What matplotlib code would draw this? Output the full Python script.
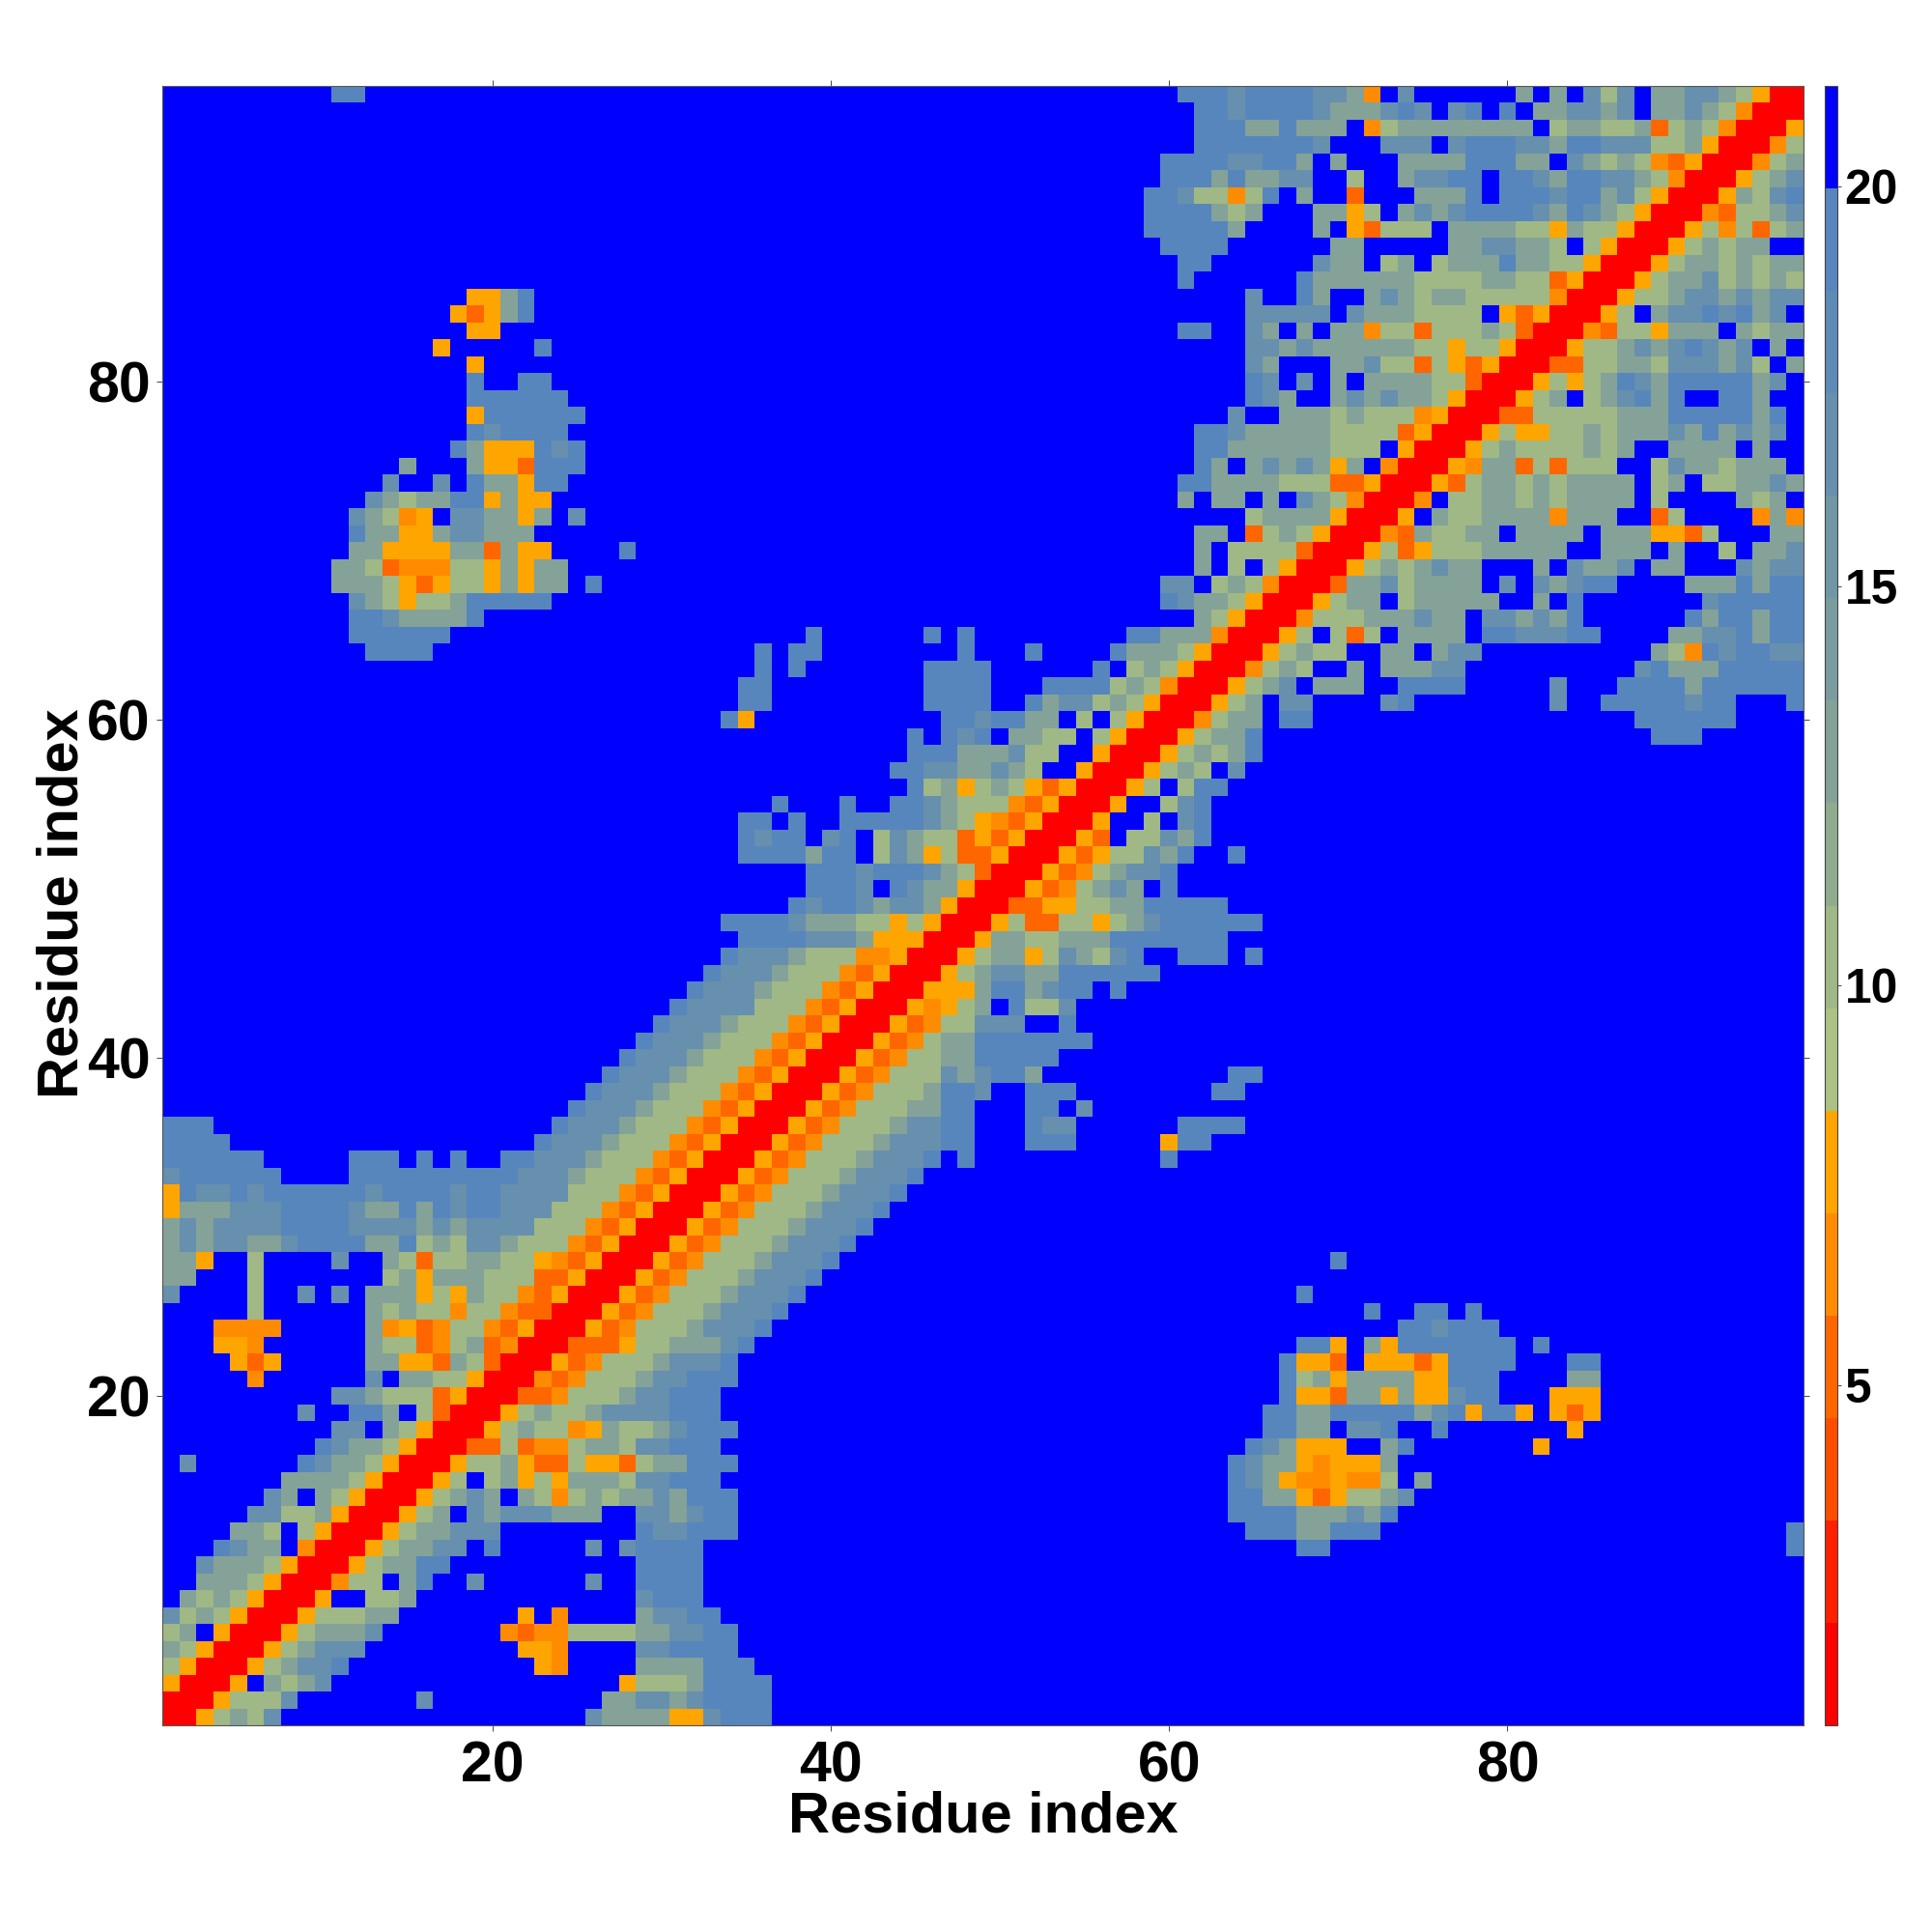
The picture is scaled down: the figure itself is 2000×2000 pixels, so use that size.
import numpy as np
import matplotlib
matplotlib.use("Agg")
import matplotlib.pyplot as plt
from matplotlib.colors import ListedColormap, BoundaryNorm
from matplotlib.cm import ScalarMappable

plt.rcParams['font.family'] = ['Liberation Sans', 'DejaVu Sans']

# Contact-map distance read per cell; every cell not listed is the top (blue) class.
SYMBOL_VALUE = {'R': 1.4, 'O': 5.2, 'o': 6.5, 'y': 7.8, 'g': 10.4, 'm': 12.9,
                'k': 16.7, 'b': 19.3, '.': 20.6}
N_RES = 97
TICKS = [20, 40, 60, 80]
CBAR_TICKS = [5, 10, 15, 20]
X_LABEL = "Residue index"
Y_LABEL = "Residue index"
LEVEL_COLORS = ['#FF0000', '#FF2000', '#FF4D00', '#FF6600', '#FF8C00', '#FFA500',
                '#ABC284', '#9FB886', '#90AC8E', '#84A297', '#7A9C9E', '#7097A5',
                '#678FAE', '#5E8BB6', '#5786BC', '#0000FF']
LEVEL_LOW = 0.74
LEVEL_HIGH = 21.26

# row: [(first column, cell symbols), ...]
CELLS = {
97: [(11,"bb"),(61,"bbbkbbbbkkmo.k"),(81,"m.m.kgk.mmkkmgyRR")],
96: [(62,"bbkbbbbkmmmkbk.kb.b.mmkkmk.mmkmgoRRR")],
95: [(62,"bbbmmbmmm.ogmmmmmmmm.gmmggmOgmgoRRRy")],
94: [(62,"bbbbbbbk...kkk.kbbbkkmbbkkkggmyRRRog")],
93: [(60,"bbbbkkbbm.m...mmmmbbbmm.kmgmgoOyRRRogm")],
92: [(60,"bbbmbmmkk..g..mkkbb.bbkmbbkkmgoRRRygmk")],
91: [(59,"bbkggogb.m..O...mmmb.bbbkbbmkgyRRRymgkb")],
90: [(59,"bbbbmgm...mmyg.mkmkbbbbkmbkmgyRRRoOggmk")],
89: [(59,"bbbbbm....m.yOggg.mmmmggymggyRRRygogOgm")],
88: [(60,"bbbb......mm.....mmkkmmg.gyRRRygmgmm..")],
87: [(61,"bb......kmm.gm.gmmmbmmggyRRRygmmgmgmm")],
86: [(61,"b......bmmmmmmggggmmggOyRRRygmmkgmgmg")],
85: [(19,"yymb"),(65,"k..bm..mkmgmmgggggoRRRyggmkkmkmkk")],
84: [(18,"yOymb"),(65,"kkkkk.kmmmgggg.yOyRRRyg.mkkbkbmk.")],
83: [(19,"yy"),(61,"bb"),(65,"km.m.mmoggOgggmgORRRoOggymmm.mgmm")],
82: [(17,"y"),(23,"b"),(65,"kkmkmmmmmmggyggyRRRyggmkmkbkmk.m.")],
81: [(19,"y"),(65,"km...mmkggOgyOyRRROOggmmgkkkmkg.m")],
80: [(19,"b"),(22,"bb"),(65,"bk.k.m.mmmmggORRRygygmbkmbbbbbmk.")],
79: [(19,"bbbbbb"),(65,"bkm..mkmkmmgyRRRygm.gmkbmb..bbm..")],
78: [(19,"ybbbbbb"),(64,"k..mmmgmgggoyRRROOgggggmmmbbbbbmb.")],
77: [(19,"bkbbbb"),(62,"bbkmmmmmggggOyRRRygyyggmgmmmkmbmkmk.")],
76: [(18,"bmyyybkb"),(62,"bbmmmmmmggg.yRRRygmggggmgm..mmmm.m..")],
75: [(15,"m"),(19,"myyObbb"),(62,"bm.mkmkmym.oRRRyommOgOggg..gkmmgmmm.")],
74: [(14,"k"),(17,"k"),(19,"bmmybb"),(61,"bbmmmmgggOOyRRRyOgmmgmgmmmm.gm.ggmmkm")],
73: [(13,"kmgmmbbymyy"),(61,"m.mm.m.kmgoRRRo.ggmmgmgmmmm.g....mgm.")],
72: [(12,"kmgoy.kkmmym.k"),(65,"gmmmmyRRRy.mggmmmmommm..Og....omo")],
71: [(12,"bmmyymkkmmm"),(62,"mm.OgmgyRRRoOmggmm.mmmm.mmmyyOg...mm")],
70: [(12,"mmyyyymmOmyy"),(28,"b"),(62,"m.ggggORRRygOygggmmmmm..mmm.m..g.mmk")],
69: [(11,"mmgOoooggymymm"),(62,"m.g.gyRRRygmgmkmm...m.kmmk.mm...kmkk")],
68: [(11,"mmmgyOyggymymm"),(26,"b"),(60,"kk.gmgoRRROmmkgmmmm.k.kmkbb....mmmbmbb")],
67: [(12,"kmgyggmbbbbb"),(60,"bkmmgyRRRygmm.gmmmmm..m.b.......kbbbbb")],
66: [(12,"bbkmmmmb"),(62,"mgyRRRogggmmmkmm.kkmkmb......bmbbmbb")],
65: [(12,"bbbbbb"),(39,"b"),(46,"b"),(48,"b"),(58,"bbmmmoRRRyg.gOg.mmmm.bbkkkbb....mmkkbmbb")],
64: [(13,"bbbb"),(36,"b"),(38,"bb"),(48,"b"),(52,"b"),(57,"b"),(58,"mmmgyRRRygmgg..mm.mkk..........mgobkbbkk")],
63: [(36,"b"),(38,"b"),(46,"bbbb"),(56,"b"),(58,"gmgyRRRogmg..m.mmmkk..........kbmmmbbbbb")],
62: [(35,"bb"),(46,"bbbb"),(53,"bbbb"),(57,"gmgoRRRygmk.mmm..bbbb.....k...bbbbmbbbbbb")],
61: [(35,"bb"),(46,"bbbb"),(52,"b"),(53,"mkkgmgyRRRygm.kk....kb........k..bbbbbkbb...b")],
60: [(34,"by"),(47,"bbkbbmm.g.gyRRRogmm.bb"),(88,"bbbbbb")],
59: [(45,"b.bkb.mmgg.gyRRRygmmb"),(89,"bbb")],
58: [(45,"bbbmmmkgg..yRRRygmgmb")],
57: [(44,"bbkkmmkmg..yRRRygmg.k")],
56: [(45,"bgmygmgyOyRRRyg.gbb")],
55: [(37,"b"),(41,"b"),(44,"bbkmgggoOyRRRy..gkb")],
54: [(35,"bb.b"),(41,"bbbbbkmgyoOyRRRy..g.kb")],
53: [(35,"bkbb.kb.gkmggOyOyRRRyO.ggkmb")],
52: [(35,"bbbbmbb.gkmygOOyRRRyOyggkmb..b")],
51: [(39,"bbbkbbbkmgORRRyOogmkkb")],
50: [(39,"bbbk.bkmmyRRRyOogmkm.b")],
49: [(38,"bkbbkmkkmyRRROOyyggmmbbbbb")],
48: [(34,"bbbbkmmmggygyRRRygOOggygmkbbbbbb")],
47: [(35,"bbbbkkkmyyyRRRymmggmmmbbbbbbb")],
46: [(34,"bkkkmgggooyRRRygmmygkmgkb..bbb.b")],
45: [(33,"bkkkmgggoOyRRRygmkkmmbbbbbb")],
44: [(32,"bkkkmgggoOyRRRyyymbbmkbb.b")],
43: [(31,"bkkkkgggoOyRRRyoygm.bggk")],
42: [(30,"bkkkmgggoOyRRRyOoggkkk..b")],
41: [(29,"bkkkmgggoOyRRRyOogmmbbbbbbb")],
40: [(28,"bkkkmgggoOyRRRyOoggmmbbbbb")],
39: [(27,"bkkkmgggoOyRRRyOogggkmkbbm"),(64,"bb")],
38: [(26,"bkkkmgggoOyRRRyOogggmbbk..bbb"),(63,"bb")],
37: [(25,"bkkkmgggoOyRRRyOogggmmbb...bb.k")],
36: [(1,"bbb"),(24,"bkkkmgggoOyRRRyOogggmkkbb...bkk"),(61,"bbbb")],
35: [(1,"bbbb"),(23,"bkkkmgggoOyRRRyOogggmkkkbb...bbb"),(60,"ybb")],
34: [(1,"bbbbbb"),(12,"bbb"),(16,"b"),(18,"b"),(21,"bbkkkmgggoOyRRRyOogggmkkkb.b"),(60,"b")],
33: [(1,"kbbbbbb"),(12,"bbbbbbbbbbkkkmgggoOyRRRyOogggmkkkb")],
32: [(1,"ybkkbkbbbbbbkbbbbkbbkkkkgggoOyRRRyOogggmkkkb")],
31: [(1,"ymmmkkkbbbbkmmbmbkbbkkkgggoOyRRRyOogggmkkkb")],
30: [(1,"mkmkkkkbbbbkkkkmkmkkkkgggoOyRRRyOogggmkkkb")],
29: [(1,"mkmkkmmkbbbbmmbgmgkkmgggoOyRRRyOogggmkkkb")],
28: [(1,"mmy..g....k..mgOggmmggyoOyRRRyOogggmkkkb"),(70,"b")],
27: [(1,"mm...g.......gmymmmgggOOyRRRyOogggmkkkb")],
26: [(1,"k....g..k.k.mmmygymggoOyRRRyOogggmkkkb"),(68,"b")],
25: [(6,"g"),(13,"mgmggoggoOORRRyOogggmkkkb"),(72,"b"),(75,"bb"),(78,"b")],
24: [(4,"oooo"),(13,"moyOoggoOyRRRyOogggmkkkb"),(74,"bbkbbb")],
23: [(4,"yyo"),(13,"mggOogmOoRRROOOyggmmmkb"),(68,"bby.mybbbbbbb"),(82,"b")],
22: [(5,"yOy"),(13,"mmyyOmgORRRyOogggmkkkb"),(67,"byyO.yyyOybbbb"),(84,"bb")],
21: [(6,"o"),(13,"k.mmggyRRRoOogggmkkbbb"),(67,"bgmymmmmyybbb"),(84,"mm")],
20: [(11,"kkmgggOyRRROOogggmkkbbb"),(67,"byyOmmymyykbb"),(83,"yyy")],
19: [(9,"k"),(12,"bbm.gORRRygmggmkkkkbbb"),(66,"bbmmbbbbbmkbybby"),(83,"yOy")],
18: [(11,"kk.mgyRRRygmggoymggmkbbb"),(66,"bbmm.kkb"),(76,"b"),(84,"y")],
17: [(10,"bkmmgyRRROOgOoogmmgkkbbb"),(65,"bkmyyy..mb"),(82,"y")],
16: [(2,"k"),(9,"bkmmgyRRRyggmyOOgyyOgmmbbb"),(64,"bkmmyoyyym")],
15: [(8,"mmmmgyRRRyg.gmygymmmgkkbbb"),(64,"bkmyooyoog"),(75,"m")],
14: [(7,"km.mgyRRRygmkm.mgogmgmmkmbbb"),(64,"bbmmyOyggmk")],
13: [(6,"kkggmyRRRygm.kmkkkmmm..kkmkbb"),(64,"bbbbmmmkmb")],
12: [(5,"mmg.gyRRRygmmkkk........bkkbbb"),(65,"bbbmmbbb"),(97,"b")],
11: [(4,"bkmm.oRRRygmmkk.b"),(26,"k"),(28,"k"),(29,"bbbb"),(68,"bb"),(97,"b")],
10: [(3,"kmmmgyRRRygmmbb"),(29,"bbbb")],
9: [(3,"mmmgyRRRogg.mb"),(19,"k"),(26,"k"),(29,"bbbb")],
8: [(2,"mgmgyRRRy..ggm"),(29,"kbbb")],
7: [(1,"kgmgyRRRygggmm"),(22,"y"),(24,"o"),(29,"mkkbb")],
6: [(1,"gm.yRRRygmmmk"),(21,"oOooggggmmkkbb")],
5: [(1,"mgyRRRygmkkk"),(22,"yyo"),(29,"kkbbbb")],
4: [(1,"gyRRRygmkkb"),(23,"yo"),(29,"mmmmbbb")],
3: [(1,"yRRRy.mgmk"),(28,"ygggmbbbb")],
2: [(1,"RRRygggk"),(16,"k"),(27,"mmkkmkbbbb")],
1: [(1,"RRygmgk"),(26,"kmmmmyykbbb")],
}

grid = np.full((N_RES, N_RES), SYMBOL_VALUE['.'])
for row, runs in CELLS.items():
    for col, symbols in runs:
        for i, s in enumerate(symbols):
            if col + i <= N_RES:
                grid[row - 1, col - 1 + i] = SYMBOL_VALUE[s]

bounds = np.linspace(LEVEL_LOW, LEVEL_HIGH, len(LEVEL_COLORS) + 1)
cmap = ListedColormap(LEVEL_COLORS)
norm = BoundaryNorm(bounds, cmap.N)

fig = plt.figure(figsize=(20, 20), dpi=100, facecolor='white')
ax = fig.add_axes([168/2000, 1 - 1786/2000, (1867-168)/2000, (1786-89)/2000])
edges = np.arange(0.5, N_RES + 1)
ax.pcolormesh(edges, edges, grid, cmap=cmap, norm=norm, linewidth=0, rasterized=True)
ax.set_xlim(0.5, N_RES + 0.5)
ax.set_ylim(0.5, N_RES + 0.5)
ax.set_xticks(TICKS)
ax.set_yticks(TICKS)
ax.tick_params(axis='both', which='major', direction='out', length=4.5, width=0.7,
               color='#444444', top=True, right=True, labelsize=42.5)
ax.tick_params(axis='x', pad=7)
ax.tick_params(axis='y', pad=4.5)
for lab in ax.get_xticklabels() + ax.get_yticklabels():
    lab.set_fontweight('bold')
for sp in ax.spines.values():
    sp.set_linewidth(0.8)
    sp.set_color('#555555')
ax.set_xlabel(X_LABEL, fontsize=42.8, fontweight='bold')
ax.set_ylabel(Y_LABEL, fontsize=42.8, fontweight='bold')
ax.xaxis.set_label_coords((1018-168)/1699, -(1881-1786)/1697, transform=ax.transAxes)
ax.xaxis.label.set_va('center')
ax.yaxis.set_label_coords(-(168-65)/1699, (1786-935)/1697, transform=ax.transAxes)
ax.yaxis.label.set_va('center')

cax = fig.add_axes([1889/2000, 1 - 1786/2000, 13/2000, (1786-89)/2000])
cb = fig.colorbar(ScalarMappable(norm=norm, cmap=cmap), cax=cax, ticks=CBAR_TICKS,
                  spacing='proportional', drawedges=False)
cb.ax.minorticks_off()
cb.ax.tick_params(direction='out', length=3, width=0.7, color='#444444',
                  labelsize=35.7, pad=2.5)
cb.set_ticklabels([str(t) for t in CBAR_TICKS])
for lab in cb.ax.get_yticklabels():
    lab.set_fontweight('bold')
cb.outline.set_linewidth(0.8)
cb.outline.set_edgecolor('#444444')

fig.savefig('out.png', dpi=100, facecolor='white')
